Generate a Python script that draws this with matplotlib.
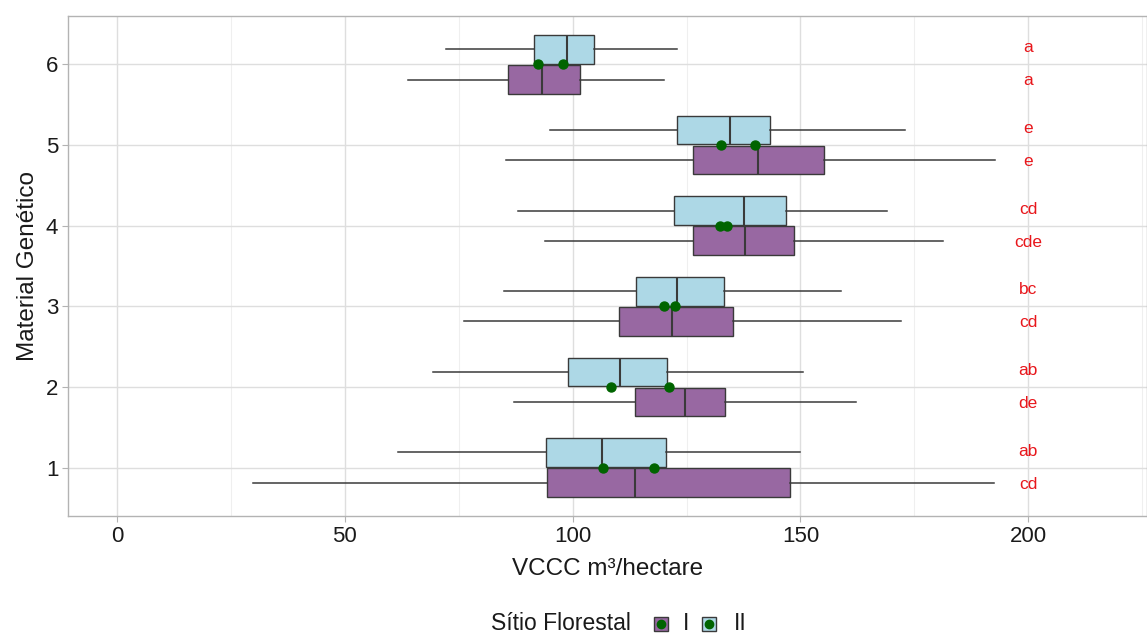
import matplotlib.pyplot as plt
from matplotlib.lines import Line2D

plt.rcParams['font.family'] = ['Liberation Sans', 'DejaVu Sans']

# Material genético 1..6
materials = [1, 2, 3, 4, 5, 6]

# Sítio I (roxo) - estatísticas do boxplot
s1_wlo = [29.9, 87.2, 76.1, 94.0, 85.3, 63.8]
s1_q1 = [94.4, 113.7, 110.1, 126.5, 126.5, 85.7]
s1_med = [113.7, 124.7, 121.9, 137.8, 140.7, 93.3]
s1_q3 = [147.8, 133.4, 135.3, 148.6, 155.2, 101.6]
s1_whi = [192.5, 162.3, 172.1, 181.4, 192.8, 120.1]
s1_mean = [117.8, 121.1, 120.1, 132.3, 140.0, 92.4]
s1_letters = ['cd', 'de', 'cd', 'cde', 'e', 'a']

# Sítio II (azul claro)
s2_wlo = [61.7, 69.3, 85.0, 88.1, 95.0, 72.1]
s2_q1 = [94.2, 99.0, 113.9, 122.2, 122.9, 91.5]
s2_med = [106.5, 110.5, 122.9, 137.7, 134.6, 98.7]
s2_q3 = [120.4, 120.8, 133.2, 146.8, 143.3, 104.6]
s2_whi = [149.9, 150.6, 159.0, 169.1, 173.0, 123.0]
s2_mean = [106.7, 108.5, 122.5, 133.8, 132.6, 97.8]
s2_letters = ['ab', 'ab', 'bc', 'cd', 'e', 'a']

purple = '#9868a2'
light = '#add8e6'
edge = '#3a3a3a'
green = '#006400'


def make_stats(wlo, q1, med, q3, whi):
    return [dict(whislo=a, q1=b, med=c, q3=d, whishi=e, fliers=[])
            for a, b, c, d, e in zip(wlo, q1, med, q3, whi)]


fig = plt.figure(figsize=(11.47, 6.36), dpi=100)
ax = fig.add_axes([68 / 1147, 1 - 516 / 636, 1 - 68 / 1147, 500 / 636])

dodge = 0.1875
for stats, off, col in [(make_stats(s1_wlo, s1_q1, s1_med, s1_q3, s1_whi), -dodge, purple),
                        (make_stats(s2_wlo, s2_q1, s2_med, s2_q3, s2_whi), dodge, light)]:
    ax.bxp(stats, positions=[m + off for m in materials], widths=0.355,
           orientation='horizontal', patch_artist=True, showcaps=False,
           showfliers=False, manage_ticks=False,
           boxprops=dict(facecolor=col, edgecolor=edge, linewidth=1.0),
           medianprops=dict(color=edge, linewidth=1.5),
           whiskerprops=dict(color=edge, linewidth=1.1))

# médias (não deslocadas)
ax.scatter(s1_mean, materials, s=42, color=green, zorder=5)
ax.scatter(s2_mean, materials, s=42, color=green, zorder=5)

# letras do teste de médias
for m, a, b in zip(materials, s1_letters, s2_letters):
    ax.text(200, m - 0.205, a, color='#e8161b', fontsize=12.5, ha='center', va='center')
    ax.text(200, m + 0.205, b, color='#e8161b', fontsize=12.5, ha='center', va='center')

ax.set_xlim(-10.8, 226.1)
ax.set_ylim(0.4, 6.6)
ax.set_xticks([0, 50, 100, 150, 200])
ax.set_xticks([25, 75, 125, 175, 225], minor=True)
ax.set_yticks(materials)
ax.set_axisbelow(True)
ax.grid(True, which='major', color='#dedede', linewidth=1.0)
ax.grid(True, which='minor', axis='x', color='#efefef', linewidth=0.8)
for sp in ax.spines.values():
    sp.set_color('#b3b3b3')
    sp.set_linewidth(1.0)
ax.tick_params(axis='both', which='major', labelsize=16, color='#b3b3b3',
               length=4, labelcolor='#1a1a1a', pad=3)
ax.tick_params(axis='x', which='minor', length=0)

ax.set_xlabel('VCCC m³/hectare', fontsize=17.5, color='#1a1a1a', labelpad=8)
ax.set_ylabel('Material Genético', fontsize=17.5, color='#1a1a1a', labelpad=5)

# legenda embaixo, montada à mão
ly = 1 - 624 / 636
fig.text(561 / 1147, ly, 'Sítio Florestal', fontsize=16.5, ha='center',
         va='center', color='#1a1a1a')
for xk, xl, col, lab in [(661, 686, purple, 'I'), (709, 740, light, 'II')]:
    fig.add_artist(Line2D([xk / 1147], [ly], marker='s', markersize=10,
                          markerfacecolor=col, markeredgecolor=edge,
                          linestyle='none', transform=fig.transFigure))
    fig.add_artist(Line2D([xk / 1147], [ly], marker='o', markersize=6,
                          color=green, linestyle='none', transform=fig.transFigure))
    fig.text(xl / 1147, ly, lab, fontsize=16.5, ha='center', va='center',
             color='#1a1a1a')

fig.savefig('out.png', dpi=100)
